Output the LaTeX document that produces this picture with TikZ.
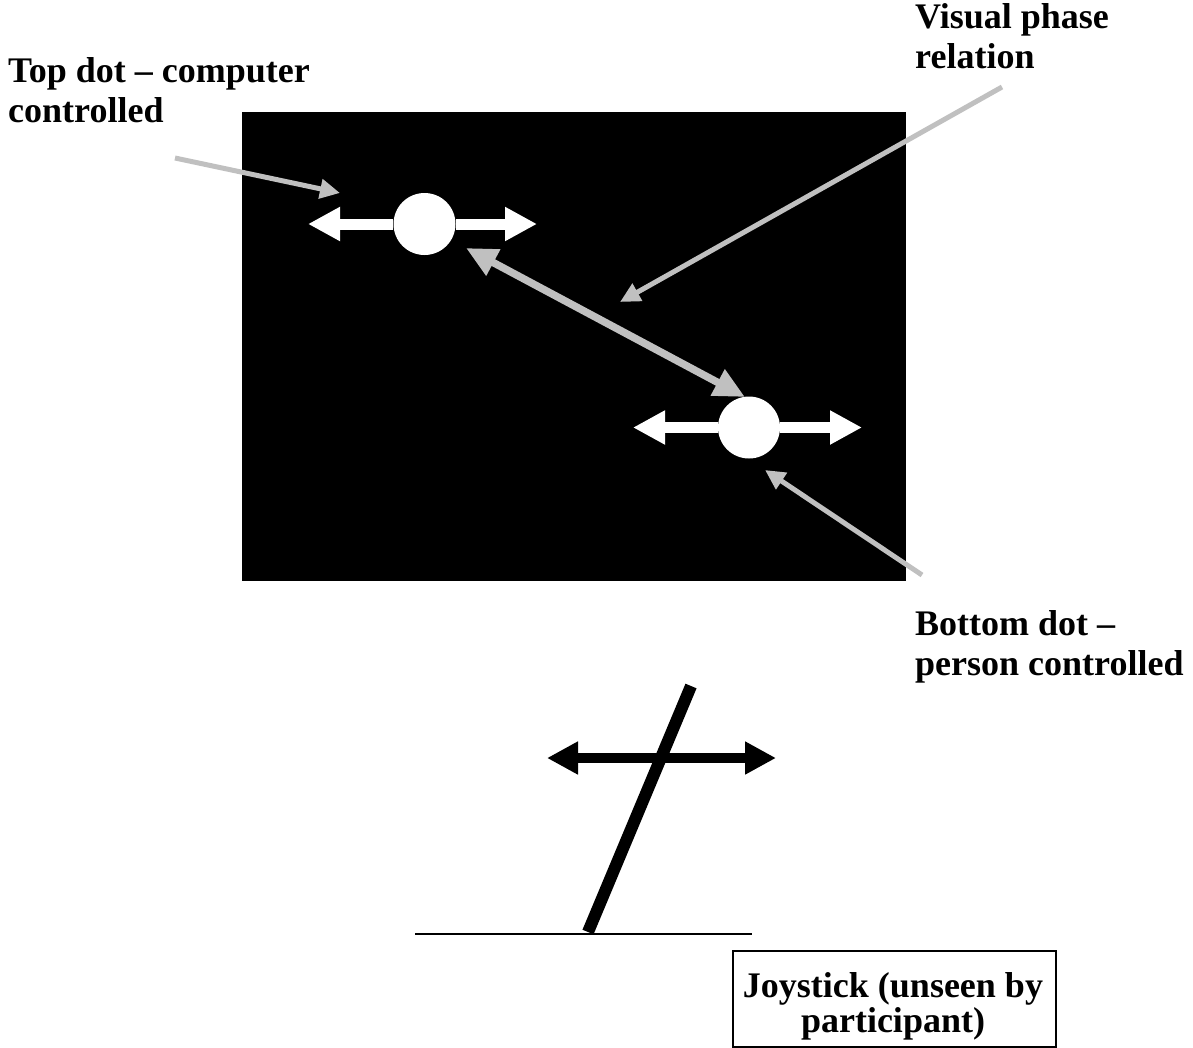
\documentclass[tikz,border=0pt]{standalone}
\usepackage{fontspec}
\setmainfont{Liberation Serif}
\usetikzlibrary{arrows.meta}
\definecolor{pgrey}{HTML}{C0C0C0}
\begin{document}
\begin{tikzpicture}[x=1pt,y=-1pt,
  lbl/.style={font=\bfseries\fontsize{36}{40}\selectfont, inner sep=0pt, anchor=base west, align=left},
  dotnode/.style={circle, fill=white, minimum size=62pt, inner sep=0pt},
  whitearrow/.style={white, line width=11pt, -{Triangle[length=32pt,width=32pt]}},
  pointer/.style={pgrey, line width=5pt, -{Triangle[length=20pt,width=19pt]}},
  phase/.style={pgrey, line width=7.5pt, {Triangle[length=31pt,width=28pt]}-{Triangle[length=31pt,width=28pt]}},
  blackarrow/.style={black, line width=10pt, {Triangle[length=31pt,width=31pt]}-{Triangle[length=31pt,width=31pt]}},
  boxnode/.style={draw=black, line width=2pt, minimum width=323pt, minimum height=96pt, inner sep=0pt, anchor=north west}
]
\useasboundingbox (0,0) rectangle (1193,1047);

% screen
\node[fill=black, minimum width=664pt, minimum height=469pt, inner sep=0pt, anchor=north west] (screen) at (242,112) {};

% dots
\node[dotnode] (topdot) at (424.5,224) {};
\node[dotnode] (botdot) at (749,427.5) {};

% white movement arrows
\coordinate (tl) at (308,224);
\coordinate (tr) at (537,224);
\coordinate (bl) at (633,427.5);
\coordinate (br) at (862,427.5);
\draw[whitearrow] (topdot.west) -- (tl);
\draw[whitearrow] (topdot.east) -- (tr);
\draw[whitearrow] (botdot.west) -- (bl);
\draw[whitearrow] (botdot.east) -- (br);

% phase relation double arrow
\coordinate (pa) at (466,248);
\coordinate (pb) at (745,397);
\draw[phase] (pa) -- (pb);

% pointers
\coordinate (ts) at (175,158);
\coordinate (tt) at (340,193);
\draw[pointer] (ts) -- (tt);
\coordinate (vs) at (1002,87);
\coordinate (vt) at (620,302);
\draw[pointer] (vs) -- (vt);
\coordinate (bs) at (922,575);
\coordinate (bt) at (765,470);
\draw[pointer] (bs) -- (bt);

% labels (base anchor = last line baseline)
\node[lbl] (toplabel) at (8,122) {Top dot -- computer\\controlled};
\node[lbl] (vislabel) at (915,68) {Visual phase\\relation};
\node[lbl] (botlabel) at (915,675) {Bottom dot --\\person controlled};

% joystick
\coordinate (gl) at (415,934);
\coordinate (gr) at (752,934);
\draw[line width=2pt] (gl) -- (gr);
\coordinate (sa) at (691,686);
\coordinate (sb) at (588,932);
\coordinate (jl) at (547,758);
\coordinate (jr) at (776,758);
\draw[blackarrow] (jl) -- (jr);
\draw[line width=12pt] (sa) -- (sb);

% joystick label box
\node[boxnode] (jbox) at (732,950) {};
\node[font=\bfseries\fontsize{36}{35}\selectfont, inner sep=0pt, anchor=base, align=center] (jtext) at (893,1032) {Joystick (unseen by\\participant)};
\end{tikzpicture}
\end{document}
